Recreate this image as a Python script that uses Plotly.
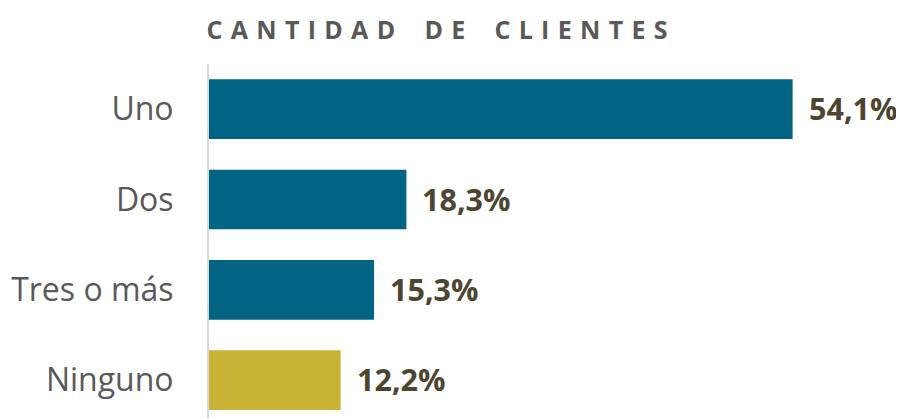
import plotly.graph_objects as go

categorias = ["Uno", "Dos", "Tres o más", "Ninguno"]
porcentajes = [54.1, 18.3, 15.3, 12.2]
etiquetas = ["54,1%", "18,3%", "15,3%", "12,2%"]
colores = ["#006482", "#006482", "#006482", "#C9B334"]

titulo = "CANTIDAD DE CLIENTES"
# espaciado entre letras, como en el original
titulo_espaciado = "\u2002\u2002\u2006".join("\u2009\u2006".join(p) for p in titulo.split(" "))

fig = go.Figure()
fig.add_trace(go.Bar(
    x=porcentajes,
    y=categorias,
    orientation="h",
    marker=dict(color=colores, line=dict(width=0)),
    width=0.66,
    hoverinfo="skip",
))

for cat, val, txt in zip(categorias, porcentajes, etiquetas):
    fig.add_annotation(
        x=val, y=cat, text=f"<b>{txt}</b>",
        xanchor="left", yanchor="middle", xshift=14, yshift=1,
        showarrow=False,
        font=dict(family="Open Sans", size=30.5, color="#4D4530"),
    )

# la página añade 8 px de margen al cuerpo
fig.update_layout(
    width=896,
    height=411,
    margin=dict(l=201, r=10, t=56, b=0),
    paper_bgcolor="white",
    plot_bgcolor="white",
    showlegend=False,
    title=dict(
        text=f"<b>{titulo_espaciado}</b>",
        x=0.4788, xanchor="center",
        yref="container", y=1 - 22 / 411, yanchor="middle",
        font=dict(family="Open Sans", size=25, color="#595959"),
    ),
    xaxis=dict(
        range=[0, 63.5], automargin=False,
        showgrid=False, zeroline=False, showticklabels=False, showline=False,
        fixedrange=True,
    ),
    yaxis=dict(
        type="category", automargin=False,
        range=[3.43, -0.5],
        showgrid=False, zeroline=False,
        showline=True, linecolor="#D9D9D9", linewidth=2,
        ticks="", ticklabelstandoff=27,
        tickfont=dict(family="Open Sans", size=32, color="#595959"),
        fixedrange=True,
    ),
)

fig.write_html("out.html")
